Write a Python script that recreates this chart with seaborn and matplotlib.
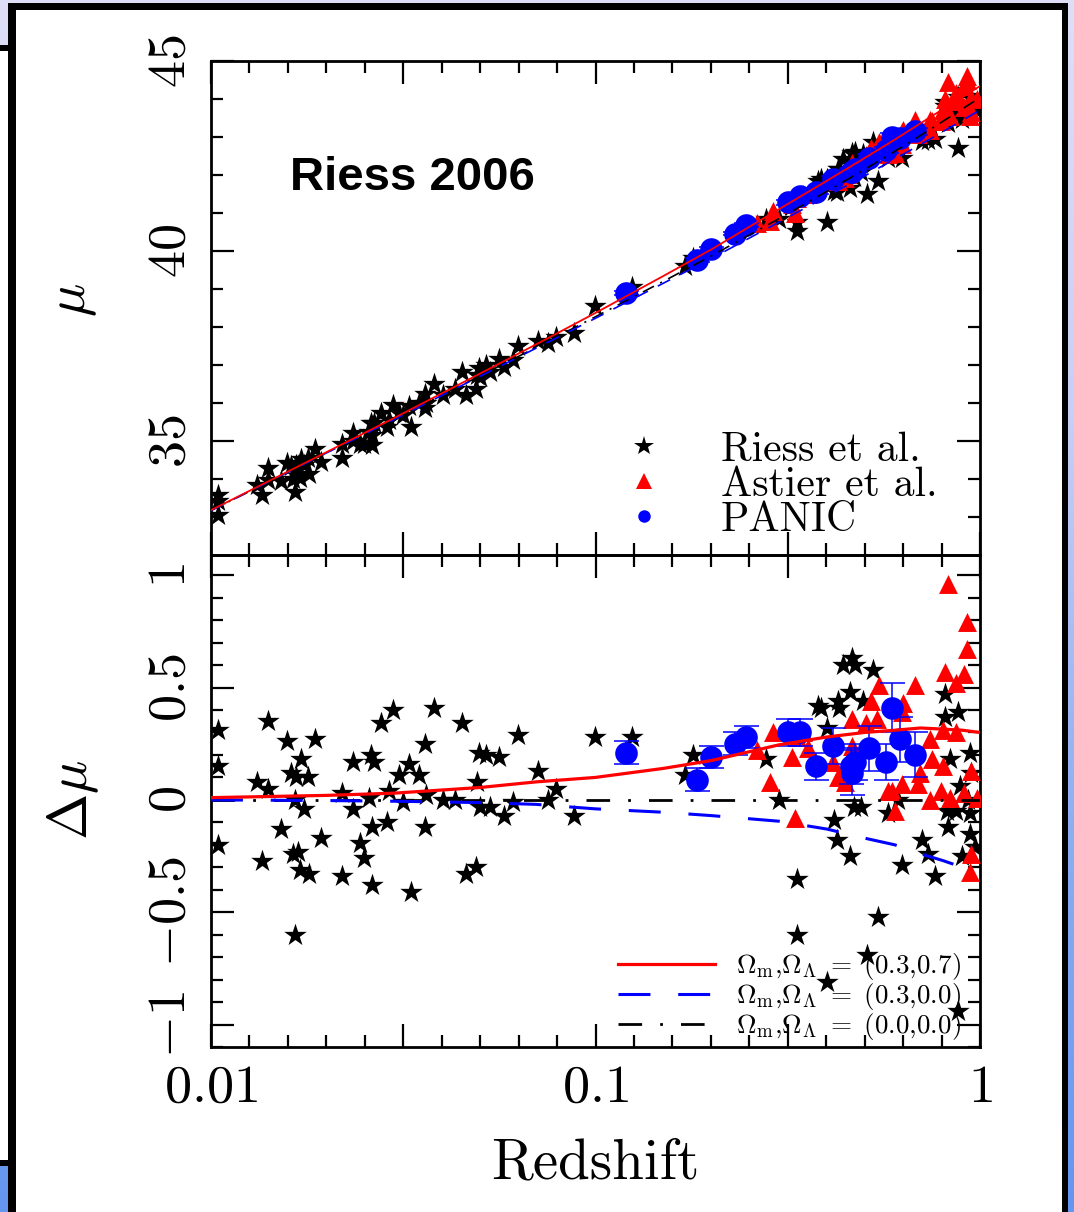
import numpy as np
import pandas as pd
import matplotlib
matplotlib.use("Agg")
import matplotlib.pyplot as plt
import seaborn as sns
from matplotlib.lines import Line2D
from matplotlib.patches import Rectangle
from matplotlib.colors import LinearSegmentedColormap
from matplotlib.ticker import NullFormatter

plt.rcParams["lines.scale_dashes"] = False
plt.rcParams["mathtext.fontset"] = "cm"
plt.rcParams["axes.unicode_minus"] = True

# ---------------- data ----------------
riess_z = [0.0104, 0.0104, 0.0104, 0.0132, 0.0141, 0.0141, 0.0136, 0.0152, 0.0158, 0.0161,
           0.0166, 0.0171, 0.0179, 0.0165, 0.0175, 0.0163, 0.0168, 0.0170, 0.0180, 0.0186,
           0.0193, 0.0219, 0.0219, 0.0234, 0.0234, 0.0244, 0.0250, 0.0258, 0.0261, 0.0265,
           0.0262, 0.0263, 0.0277, 0.0287, 0.0290, 0.0297, 0.0308, 0.0316, 0.0327, 0.0331,
           0.0348, 0.0361, 0.0362, 0.0361, 0.0380, 0.0401, 0.0431, 0.0450, 0.0460, 0.0489,
           0.0491, 0.0498, 0.0519, 0.0500, 0.0532, 0.0561, 0.0578, 0.0610, 0.0629, 0.0708,
           0.0752, 0.0789, 0.0879, 0.0997, 0.0165, 0.1245, 0.179, 0.171, 0.277, 0.300,
           0.334, 0.334, 0.417, 0.425, 0.459, 0.400, 0.379, 0.387, 0.427, 0.430,
           0.459, 0.497, 0.440, 0.465, 0.472, 0.527, 0.469, 0.490, 0.577, 0.612,
           0.627, 0.706, 0.733, 0.764, 0.811, 0.811, 0.836, 0.877, 0.886, 0.820,
           0.865, 0.826, 0.898, 0.941, 0.930, 0.940, 0.940, 0.970, 0.543, 0.508,
           0.400, 0.877, 0.950]
riess_dmu = [0.31, 0.15, -0.20, 0.08, 0.05, 0.35, -0.27, -0.13, 0.26, 0.12,
             0.10, 0.18, 0.10, 0.00, -0.04, -0.24, -0.23, -0.31, -0.33, 0.27,
             -0.17, 0.03, -0.34, 0.17, -0.04, -0.19, -0.26, 0.01, 0.20, 0.17,
             -0.38, -0.12, 0.34, -0.10, 0.04, 0.40, 0.11, -0.01, 0.16, -0.41,
             0.11, 0.25, 0.02, -0.12, 0.41, 0.00, 0.00, 0.34, -0.33, -0.30,
             0.08, 0.21, 0.20, -0.03, -0.03, 0.19, -0.07, -0.01, 0.29, 0.13,
             0.00, 0.05, -0.07, 0.28, -0.60, 0.28, 0.20, 0.11, 0.18, 0.00,
             -0.35, -0.60, -0.09, -0.18, -0.25, 0.32, 0.42, 0.41, 0.44, 0.41,
             0.48, 0.44, 0.60, 0.63, 0.60, 0.58, -0.03, -0.03, -0.06, 0.00,
             -0.29, -0.18, -0.24, -0.34, 0.47, 0.37, 0.18, 0.39, 0.06, -0.05,
             -0.05, -0.12, -0.25, 0.21, 0.00, -0.06, -0.15, -0.21, -0.52, -0.69,
             -0.81, -0.94, 0.12]
riess_mu = [33.57, 33.41, 33.06, 33.85, 33.98, 34.28, 33.57, 33.96, 34.42, 34.34,
            34.38, 34.53, 34.54, 34.27, 34.36, 34.00, 34.08, 34.03, 34.12, 34.80,
            34.44, 34.92, 34.55, 35.20, 34.99, 34.93, 34.92, 35.25, 35.47, 35.48,
            34.90, 35.17, 35.74, 35.38, 35.55, 35.96, 35.75, 35.68, 35.93, 35.38,
            36.01, 36.23, 36.01, 35.86, 36.50, 36.21, 36.37, 36.81, 36.20, 36.36,
            36.75, 36.91, 36.99, 36.68, 36.81, 37.15, 36.96, 37.14, 37.51, 37.62,
            37.58, 37.74, 37.85, 38.54, 33.67, 39.05, 39.81, 39.61, 40.84, 40.85,
            40.77, 40.52, 41.58, 41.54, 41.67, 41.89, 41.85, 41.90, 42.17, 42.17,
            42.40, 42.56, 42.41, 42.59, 42.60, 42.86, 41.95, 42.08, 42.46, 42.67,
            42.45, 42.89, 42.92, 42.94, 43.91, 43.81, 43.71, 44.05, 43.76, 43.43,
            43.59, 43.37, 43.48, 44.08, 43.83, 43.81, 43.72, 43.74, 41.84, 41.49,
            40.76, 42.72, 44.02]

astier_z = [0.826, 0.925, 0.925, 0.811, 0.910, 0.865, 0.546, 0.678, 0.520, 0.630,
            0.465, 0.506, 0.540, 0.627, 0.290, 0.334, 0.347, 0.263, 0.325, 0.358,
            0.415, 0.465, 0.450, 0.427, 0.445, 0.575, 0.590, 0.627, 0.690, 0.700,
            0.740, 0.750, 0.800, 0.865, 0.800, 0.790, 0.836, 0.740, 0.910, 0.980,
            0.950, 0.600, 0.330, 0.284, 0.950, 0.940]
astier_dmu = [0.96, 0.79, 0.67, 0.57, 0.56, 0.52, 0.51, 0.51, 0.44, 0.43,
              0.36, 0.34, 0.36, 0.39, 0.30, 0.28, 0.30, 0.22, 0.19, 0.23,
              0.17, 0.24, 0.16, 0.10, 0.08, 0.04, 0.04, 0.07, 0.07, 0.12,
              0.27, 0.18, 0.31, 0.30, 0.15, 0.04, 0.01, 0.00, 0.03, 0.01,
              0.13, -0.05, -0.08, 0.08, -0.24, -0.32]
astier_mu = [44.45, 44.61, 44.49, 44.01, 44.34, 44.16, 42.88, 43.46, 42.70, 43.18,
             42.32, 42.52, 42.70, 43.13, 41.06, 41.40, 41.51, 40.75, 41.25, 41.51,
             41.83, 42.20, 42.03, 41.83, 41.92, 42.54, 42.63, 42.81, 43.07, 43.15,
             43.46, 43.42, 43.72, 43.94, 43.56, 43.41, 43.54, 43.19, 43.78, 44.00,
             44.03, 42.58, 41.00, 40.80, 43.66, 43.55]

panic_z = [0.120, 0.184, 0.200, 0.230, 0.247, 0.317, 0.340, 0.374, 0.415, 0.465,
           0.472, 0.514, 0.570, 0.590, 0.619, 0.678, 0.462]
panic_dmu = [0.21, 0.09, 0.19, 0.25, 0.28, 0.30, 0.30, 0.15, 0.24, 0.12,
             0.17, 0.23, 0.17, 0.41, 0.27, 0.20, 0.15]
panic_mu = [38.89, 39.76, 40.06, 40.46, 40.68, 41.28, 41.46, 41.55, 41.90, 42.09,
            42.17, 42.44, 42.65, 42.99, 42.98, 43.15, 42.08]
panic_err = [0.05, 0.05, 0.05, 0.05, 0.05, 0.06, 0.06, 0.06, 0.08, 0.10,
             0.08, 0.10, 0.08, 0.11, 0.10, 0.10, 0.08]

model_z = [0.01, 0.02, 0.03, 0.05, 0.07, 0.1, 0.15, 0.2, 0.3, 0.4, 0.5, 0.6, 0.7, 0.8, 0.9, 1.0]
lcdm_dmu = [0.01, 0.02, 0.03, 0.055, 0.08, 0.10, 0.14, 0.175, 0.245, 0.28, 0.30, 0.31, 0.32, 0.315, 0.31, 0.30]
open_dmu = [0.0, -0.003, -0.006, -0.012, -0.02, -0.04, -0.055, -0.07, -0.095, -0.13, -0.17, -0.20, -0.24, -0.27, -0.30, -0.33]
empty_dmu = [0.0] * 16
lcdm_mu = [33.18, 34.71, 35.61, 36.77, 37.54, 38.37, 39.34, 40.04, 41.10, 41.85, 42.44, 42.93, 43.36, 43.73, 44.05, 44.34]
open_mu = [33.17, 34.69, 35.57, 36.70, 37.44, 38.23, 39.15, 39.80, 40.76, 41.44, 41.97, 42.42, 42.80, 43.14, 43.44, 43.71]
empty_mu = [33.17, 34.69, 35.58, 36.71, 37.46, 38.27, 39.20, 39.87, 40.85, 41.57, 42.14, 42.62, 43.04, 43.41, 43.74, 44.04]

x_tick_labels = ["$0.01$", "", "$0.1$", "", "$1$"]
mu_tick_labels = ["$35$", "$40$", "$45$"]
dmu_tick_labels = ["$-1$", "$-0.5$", "$0$", "$0.5$", "$1$"]
legend_top_labels = ["Riess et al.", "Astier et al.", "PANIC"]
legend_bot_labels = [r"$\Omega_{\rm m}{,}\Omega_\Lambda\ =\ (0.3{,}0.7)$",
                     r"$\Omega_{\rm m}{,}\Omega_\Lambda\ =\ (0.3{,}0.0)$",
                     r"$\Omega_{\rm m}{,}\Omega_\Lambda\ =\ (0.0{,}0.0)$"]

W, H = 1074, 1212
fig = plt.figure(figsize=(W / 100, H / 100), dpi=100)

# ---------------- slide background ----------------
bg = fig.add_axes([0, 0, 1, 1], zorder=-10)
bg.set_axis_off()
bg.set_xlim(0, 1)
bg.set_ylim(0, 1)
cmap = LinearSegmentedColormap.from_list("bg", ["#dedef7", "#c9d0f5", "#8fb0f2", "#6495ef"])
bg.imshow(np.linspace(0, 1, 256)[:, None], aspect="auto", cmap=cmap,
          extent=[0, 1, 0, 1], origin="upper")


def rect(x0, y0, x1, y1, c):
    bg.add_patch(Rectangle((x0 / W, 1 - y1 / H), (x1 - x0) / W, (y1 - y0) / H,
                           facecolor=c, edgecolor="none"))


rect(0, 45, 9, 1166, "black")
rect(0, 51, 9, 1160, "white")
rect(8, 3, 1068, 1212, "black")
rect(16, 10, 1062, 1212, "white")

# ---------------- axes ----------------
ax1 = fig.add_axes([211 / W, 1 - 555 / H, 769 / W, 494 / H])
ax2 = fig.add_axes([211 / W, 1 - 1047 / H, 769 / W, 492 / H])

x_major = [0.01, 10 ** -1.5, 0.1, 10 ** -0.5, 1.0]
x_minor = [10 ** (k / 10) for k in range(-20, 1) if k % 5 != 0]

for ax in (ax1, ax2):
    ax.set_xscale("log")
    ax.set_xlim(0.01, 1.0)
    ax.set_xticks(x_major)
    ax.set_xticks(x_minor, minor=True)
    ax.xaxis.set_minor_formatter(NullFormatter())
    ax.tick_params(which="both", direction="in", top=True, right=True,
                   bottom=True, left=True, width=1.6, colors="black")
    ax.tick_params(which="major", length=16.5)
    ax.tick_params(which="minor", length=8.5)
    ax.tick_params(axis="y", pad=11, labelsize=39)
    ax.tick_params(axis="x", pad=10, labelsize=39)
    for s in ax.spines.values():
        s.set_linewidth(2.0)
        s.set_color("black")
    ax.set_facecolor("none")

STAR_S, TRI_S, CIRC_S = 290, 185, 265

# top panel
ax1.set_ylim(32, 45)
ax1.set_yticks([35, 40, 45])
ax1.set_yticks(list(range(33, 45)), minor=True)
ax1.set_yticklabels(mu_tick_labels, rotation=90, va="center")
ax1.tick_params(labelbottom=False)

sns.scatterplot(x=riess_z, y=riess_mu, ax=ax1, marker="*", s=STAR_S, color="black",
                linewidth=0, zorder=3)
sns.scatterplot(x=astier_z, y=astier_mu, ax=ax1, marker="^", s=TRI_S, color="red",
                linewidth=0, zorder=4)
ax1.errorbar(panic_z, panic_mu, yerr=panic_err, fmt="none", ecolor="blue",
             elinewidth=1.1, capsize=9, capthick=1.1, zorder=5)
sns.scatterplot(x=panic_z, y=panic_mu, ax=ax1, marker="o", s=CIRC_S, color="blue",
                linewidth=0, zorder=5)
sns.lineplot(x=model_z, y=empty_mu, ax=ax1, color="black", lw=1.2, sort=False,
             estimator=None, linestyle=(0, (9, 5, 1.5, 5)), zorder=6)
sns.lineplot(x=model_z, y=open_mu, ax=ax1, color="blue", lw=1.2, sort=False,
             estimator=None, linestyle=(0, (10, 8)), zorder=6)
sns.lineplot(x=model_z, y=lcdm_mu, ax=ax1, color="red", lw=1.3, sort=False,
             estimator=None, zorder=7)

ax1.set_ylabel(r"$\mu$", fontsize=40)
ax1.yaxis.set_label_coords(-0.145, 0.516)
ax1.set_xlabel("")
ax1.text(0.1027, 0.739, "Riess 2006", transform=ax1.transAxes, fontsize=34,
         fontweight="bold", family="Liberation Sans", va="baseline", ha="left")

top_handles = [
    Line2D([], [], ls="none", marker="*", color="black", markersize=15, markeredgewidth=0),
    Line2D([], [], ls="none", marker="^", color="red", markersize=12, markeredgewidth=0),
    Line2D([], [], ls="none", marker="o", color="blue", markersize=9, markeredgewidth=0),
]
leg1 = ax1.legend(top_handles, legend_top_labels, loc="upper left",
                  bbox_to_anchor=(0.536, 0.25), frameon=False, borderpad=0,
                  borderaxespad=0, handlelength=1.0, handletextpad=1.35,
                  labelspacing=-0.06, prop={"family": "cmr10", "size": 30})

# bottom panel
ax2.set_ylim(-1.1, 1.09)
ax2.set_yticks([-1, -0.5, 0, 0.5, 1])
ax2.set_yticks([v / 10 for v in range(-11, 11) if v % 5 != 0], minor=True)
ax2.set_yticklabels(dmu_tick_labels, rotation=90, va="center")
ax2.set_xticklabels(x_tick_labels)

sns.scatterplot(x=riess_z, y=riess_dmu, ax=ax2, marker="*", s=STAR_S, color="black",
                linewidth=0, zorder=3)
sns.scatterplot(x=astier_z, y=astier_dmu, ax=ax2, marker="^", s=TRI_S, color="red",
                linewidth=0, zorder=4)
ax2.errorbar(panic_z, panic_dmu, yerr=panic_err, fmt="none", ecolor="blue",
             elinewidth=1.1, capsize=9, capthick=1.1, zorder=5)
sns.scatterplot(x=panic_z, y=panic_dmu, ax=ax2, marker="o", s=CIRC_S, color="blue",
                linewidth=0, zorder=5)
sns.lineplot(x=model_z, y=empty_dmu, ax=ax2, color="black", lw=2.0, sort=False,
             estimator=None, linestyle=(0, (17, 13, 2, 13)), zorder=6)
sns.lineplot(x=model_z, y=open_dmu, ax=ax2, color="blue", lw=2.2, sort=False,
             estimator=None, linestyle=(0, (23, 20)), zorder=6)
sns.lineplot(x=model_z, y=lcdm_dmu, ax=ax2, color="red", lw=2.3, sort=False,
             estimator=None, zorder=7)

ax2.set_ylabel(r"$\Delta\mu$", fontsize=40)
ax2.yaxis.set_label_coords(-0.143, 0.502)
ax2.set_xlabel("Redshift", family="cmr10", fontsize=41)
ax2.xaxis.set_label_coords(0.5, -0.185)
ax2.xaxis.label.set_va("top")

bot_handles = [
    Line2D([], [], color="red", lw=2.3),
    Line2D([], [], color="blue", lw=2.2, linestyle=(0, (23, 20))),
    Line2D([], [], color="black", lw=2.0, linestyle=(0, (17, 13, 2, 13))),
]
leg2 = ax2.legend(bot_handles, legend_bot_labels, loc="lower left",
                  bbox_to_anchor=(0.529, 0.01), frameon=False, borderpad=0,
                  borderaxespad=0, handlelength=3.6, handletextpad=0.75,
                  labelspacing=-0.04, fontsize=19.5)

fig.savefig("out.png", dpi=100)
